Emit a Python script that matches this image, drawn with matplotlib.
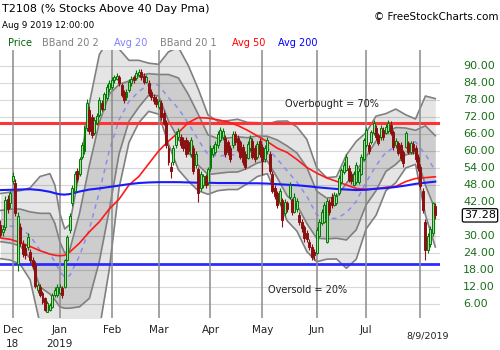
import numpy as np
import matplotlib
matplotlib.use("Agg")
import matplotlib.pyplot as plt
from matplotlib.transforms import blended_transform_factory

# daily T2108 candles, trading days Nov 26 2018 .. Aug 9 2019
opens = [34, 31.5, 33.3, 43, 41.5, 49.5, 48.6, 20, 33, 27, 25.6, 26.2, 24.5, 21.5, 19.8, 11, 12, 9.8, 8, 3.3,
         3.9, 5.1, 9.2, 9.2, 10, 11.6, 12, 21.5, 32, 41.6, 46, 53, 52, 58, 60, 68, 74.5, 72, 66.4, 70,
         72.7, 77, 75, 78.7, 82, 82.6, 85, 85.5, 86, 83.3, 80.8, 79, 81.5, 84, 86, 85.8, 87, 88, 86.5, 84.5,
         84, 81, 79, 78.5, 75.5, 77, 73.5, 70, 61, 54.5, 56, 62, 65, 65, 64, 64, 63, 59, 61, 55,
         53.5, 47, 48, 51, 49, 54, 59, 59.5, 62, 64, 65, 64.5, 63, 61, 62, 66, 64.5, 63, 61.5, 59,
         57.5, 61, 63.5, 61, 58, 63.5, 61.5, 57, 60, 59, 52, 47, 45, 42, 42.7, 38, 41.5, 43.9, 42.7, 38.6,
         39.5, 37.5, 35, 33.3, 31, 28, 26.2, 24.5, 24, 30, 34.5, 35, 28, 42, 43.9, 41, 41.5, 45, 49.2, 52.7,
         53.3, 53.9, 52, 48, 49.2, 49, 52, 57, 62, 62, 63.3, 66.2, 68, 65.6, 65, 67.5, 66.5, 67, 69, 66.8,
         62, 62.7, 62, 59.8, 61.5, 62.7, 59.8, 62.5, 61, 58, 54.5, 46, 35, 25, 27, 31, 40.5]
highs = [35.5, 34, 44, 44.5, 46, 52.5, 50, 38.5, 34.5, 28.5, 27, 31, 25.5, 22.5, 21, 13.5, 13, 10.5, 8.5, 7,
         6.5, 10, 12, 13, 13, 12.5, 22, 30.5, 38, 48, 53, 54, 58, 63, 69, 78.5, 76, 73, 72, 73.5,
         79, 78, 81, 83.5, 85, 86, 87, 87.5, 87, 84, 81.5, 82, 85.5, 86.5, 87, 88.5, 89, 89, 87.5, 87,
         85, 82, 80, 79.5, 78.5, 78, 74.5, 71, 62, 56, 62, 67, 68, 66, 65, 65, 64, 65, 62, 60,
         54.5, 53, 52, 52, 54.5, 62, 62, 63.5, 67, 68.5, 68, 65.5, 64, 62, 67, 67, 65.5, 64, 62.5, 60,
         63.5, 65.5, 64.5, 62, 63.5, 64.5, 62.5, 62, 65, 60, 53, 48, 46, 47, 43.5, 43, 42.5, 49, 43.5, 45,
         43.5, 38.5, 36, 34, 32, 29, 27, 25.5, 33, 36, 39.5, 42, 43.5, 43, 45, 45.5, 45, 51.5, 54, 56,
         59, 55, 53, 53, 56, 54, 59, 64.5, 68.5, 63, 67.5, 71, 69, 66.5, 69, 68.5, 69.5, 71, 70.5, 67.5,
         64.5, 63.5, 63, 60.5, 67, 63.5, 63.5, 63.5, 62, 59, 55.5, 47, 36, 31, 33.5, 42, 41.5]
lows = [29.5, 30, 32, 38, 40, 48.5, 37, 17.5, 26.5, 22.5, 22, 25, 20.5, 18.5, 11.5, 10, 8.5, 6, 3.5, 3,
        3.5, 4.5, 8.5, 8.5, 9.5, 8, 11.5, 21, 31, 40.5, 45, 49, 51, 57, 59, 67, 66, 64.5, 65.5, 69,
        72, 74, 74.5, 78, 81, 82, 84, 85, 83, 79, 77, 78, 81, 83, 84, 85, 86, 85, 83.5, 84,
        79.5, 78, 76.5, 75.5, 75, 71, 69, 61, 55, 50.4, 55, 61, 64, 61, 60, 58, 59, 58, 52, 54,
        42, 46, 47, 47, 48, 53, 58, 59, 61, 63, 64, 58, 58.5, 56, 61, 62, 59.5, 57, 55, 53.5,
        57, 60, 57, 56, 57, 58, 51.5, 56, 59, 52, 45, 43, 40, 41, 33.3, 37, 38.5, 43, 37.5, 38,
        38.5, 34, 31.5, 28, 28, 25, 21.5, 21.5, 23.5, 29.5, 34, 34.5, 27.5, 37.5, 40, 40.5, 41, 44.5, 48.5, 52,
        53, 49, 48.5, 47.5, 48.5, 48.5, 51.5, 56.5, 61.5, 59, 62.5, 65.5, 64, 62, 64, 64, 66, 66.5, 65.5, 60.5,
        61, 58.5, 56.5, 54.5, 61, 59, 59, 59, 56, 53, 46.5, 38, 21.5, 24, 26, 30, 36]
closes = [30.5, 32.5, 42.7, 39.5, 45, 51, 38, 37, 27.5, 23.5, 23.3, 29.8, 21.5, 19.4, 12.5, 12.7, 9.2, 6.8, 3.9, 6.2,
          5.5, 9.2, 11, 12.1, 12, 9.2, 21.5, 29.5, 37, 47, 52, 50, 57, 62, 68, 77, 67, 65.6, 71, 72.5,
          78, 75, 80, 82.6, 84, 85, 86, 86.5, 84, 79.8, 78, 81, 84.4, 85.5, 85, 87.5, 88, 86, 84.4, 86,
          80.5, 79, 77.5, 76.5, 77.5, 72, 70, 62, 56, 53, 61, 66, 67, 62, 61, 59, 60, 64, 53, 59,
          45, 52, 51, 48, 53.5, 61, 61, 62.5, 66, 67.5, 67, 59, 59.5, 57, 66, 63, 60.5, 58, 56, 54.5,
          62.5, 64.5, 58, 57, 62.5, 59, 56.5, 61, 64, 53, 46, 44, 41, 46, 35.6, 42, 39.5, 48, 38.5, 43.9,
          42.5, 35, 32.7, 29.2, 29, 26.2, 22.7, 23.3, 32, 35, 38.6, 41, 42.5, 38.6, 41, 44.5, 44, 50.4, 53.3, 55,
          58, 49.8, 49.5, 52, 55, 53, 58, 63.9, 67.4, 60, 66.8, 69.8, 65, 62.7, 68, 65, 68.5, 69.8, 66.5, 61.5,
          63.5, 59.2, 57.4, 55.6, 66.2, 59.8, 62.7, 60, 57, 54, 47.5, 39, 25, 30, 32.5, 41.5, 37.28]

# first trading day of each month (index into the candles above)
month_idx = [5, 24, 45, 64, 85, 106, 128, 148, 170]
month_lbl = ["Dec", "Jan", "Feb", "Mar", "Apr", "May", "Jun", "Jul", ""]
year_lbl = ["18", "2019", "", "", "", "", "", "", ""]
date_lbl = "8/9/2019"

# indicator readings taken at these candle positions
band_idx = [0, 4, 8, 12, 16, 20, 22, 24, 26, 28, 32, 36, 40, 44, 48, 52, 56, 60, 64, 68, 72, 76, 80, 84,
            88, 92, 96, 100, 104, 108, 112, 116, 120, 124, 128, 132, 136, 140, 144, 148, 152, 156, 160,
            164, 168, 172, 176]
bb2_up = [45, 45.5, 46, 47, 51, 52, 48, 38, 32.5, 34, 53, 77, 94, 100, 96, 92, 92, 91, 90.6, 95, 96.6,
          90.2, 82, 72.7, 70.5, 70.7, 71.2, 70.1, 70, 69.5, 70.5, 70.6, 68.5, 64.1, 54.1, 50.6, 50.9, 58.6,
          63.4, 66.5, 72.3, 73.2, 74.8, 72.8, 71.3, 79.4, 78.5]
bb1_up = [39, 39.5, 39.5, 38.5, 38, 38, 34.5, 28, 24, 25, 38, 55, 70, 80, 83.5, 84.7, 86.5, 87.3, 87, 87,
          85.8, 80, 73, 65.7, 64.4, 64.6, 65, 64.7, 65.3, 65.2, 63.9, 61.8, 59.3, 54.2, 45.8, 43.4, 43.7,
          48.6, 53, 58, 63.5, 66.4, 68.3, 68.1, 67.3, 68.9, 65.4]
avg20 = [33.5, 33.5, 33, 30, 25, 23.5, 21, 17.5, 15.5, 16, 23, 32.5, 45.5, 60, 71, 77.5, 81, 83.5, 83.3,
         78.8, 75, 69.8, 64, 58.7, 58.2, 58.5, 58.8, 59.3, 60.5, 61, 57.2, 53, 49, 44, 37.5, 36.2, 36.2,
         38.2, 42.2, 49, 54.8, 59.6, 61.5, 63, 63.2, 58.8, 53]
bb1_lo = [28, 27.5, 26.5, 22, 12, 9.5, 7.5, 5, 4.5, 4.5, 5, 8, 21, 39, 59, 70.5, 75.5, 79.7, 79.5, 70.6,
          64.2, 59.6, 55, 51.7, 52.1, 52.5, 52.6, 53.9, 55.8, 56.5, 50.6, 44.2, 40.9, 34.4, 29.2, 29, 29.2,
          28.6, 32.2, 41, 46, 52.8, 55.3, 58.7, 59.3, 47.9, 39.2]
bb2_lo = [22, 21.5, 20, 14.5, -1, -4, -6, -5, -2, -2, -10, -15, -3, 18, 47, 63, 70, 74, 73, 62.5, 53.4,
          49.4, 46, 44.7, 46, 46.4, 46.4, 48.5, 51, 52, 43.9, 35.4, 31.7, 24.5, 20.9, 21.8, 21.9, 18.6,
          21.8, 32.5, 37.3, 46, 48.8, 54, 55.3, 37.4, 26.1]
avg50 = [29.3, 28.8, 27.7, 26.3, 24.8, 23.6, 23.2, 23, 23.2, 24.3, 27.5, 31.5, 35, 39.5, 43, 48, 51, 55.5,
         60, 63.5, 66.5, 70, 71.8, 71.6, 71, 70.3, 69, 67.3, 65.3, 63.3, 61, 59.5, 57, 54.2, 52.2, 50.5,
         49.3, 48, 46.8, 46.5, 46.6, 47.2, 47.5, 49.2, 50.3, 50.6, 50.9]
avg200 = [46.2, 46.3, 46.4, 46.5, 46.2, 45.6, 45.1, 44.7, 44.6, 44.8, 45.7, 46.4, 46.8, 47.3, 47.8, 48.3,
          48.7, 48.9, 49, 49, 49, 48.9, 48.8, 48.8, 48.7, 48.7, 48.7, 48.6, 48.6, 48.5, 48.3, 48.1, 47.9,
          47.6, 47.2, 46.9, 46.6, 46.4, 46.2, 46.3, 46.7, 46.9, 47.3, 47.8, 48.4, 48.8, 49.2]

overbought = 70
oversold = 20
y_ticks = [6, 12, 18, 24, 30, 36, 42, 48, 54, 60, 66, 72, 78, 84, 90]

W, H = 500, 350
fig = plt.figure(figsize=(W / 100, H / 100), dpi=100)
ax = fig.add_axes([0, 32 / H, 440 / W, 268 / H])
ax.set_xlim(-0.2, 177.9)
ax.set_ylim(1.05, 95.65)
for s in ax.spines.values():
    s.set_visible(False)
ax.set_xticks([])
ax.set_yticks([])

# grid
for v in y_ticks:
    ax.axhline(v, color="#d9d9d9", lw=0.8, zorder=0)
for m in month_idx:
    ax.axvline(m, color="#8a8a8a", lw=1.1, zorder=3)

# bollinger bands
ax.fill_between(band_idx, bb2_lo, bb2_up, color="k", alpha=0.10, lw=0, zorder=1)
ax.fill_between(band_idx, bb1_lo, bb1_up, color="k", alpha=0.10, lw=0, zorder=1)
for band in (bb2_up, bb1_up, bb1_lo, bb2_lo):
    ax.plot(band_idx, band, color="#808080", lw=1.2, zorder=2)
ax.plot(band_idx, avg20, color="#8c8cf2", lw=1.1, dashes=(3, 3), zorder=2.5)

ax.axhline(overbought, color="#ff3333", lw=2.2, zorder=2.6)
ax.axhline(oversold, color="#2b2bff", lw=2.0, zorder=2.6)
ax.plot(band_idx, avg50, color="#ff1a1a", lw=1.2, zorder=4)
ax.plot(band_idx, avg200, color="#1a1aff", lw=1.5, zorder=4)

# candles
o = np.array(opens)
c = np.array(closes)
hi = np.array(highs)
lo = np.array(lows)
x = np.arange(len(c))
up = c >= o
for mask, edge, face in [(up, "#007a00", "#a8d8a8"), (~up, "#8b1111", "#8b1111")]:
    ax.vlines(x[mask], lo[mask], hi[mask], color=edge, lw=0.8, zorder=5)
    ax.bar(x[mask], np.abs(c - o)[mask], bottom=np.minimum(o, c)[mask], width=0.8,
           color=face, edgecolor=edge, linewidth=0.7, zorder=6)

ax.text(115, 76.6, "Overbought = 70%", fontsize=7, ha="left", va="center", color="#222222", zorder=7)
ax.text(108.3, 10.9, "Oversold = 20%", fontsize=7, ha="left", va="center", color="#222222", zorder=7)

# right price scale; the last-value box takes the place of the nearest label
ty = blended_transform_factory(ax.transAxes, ax.transData)
for v in y_ticks:
    if abs(v - c[-1]) < 3:
        continue
    ax.text(463 / 440, v, f"{v:.2f}", transform=ty, fontsize=8, color="#1a701a",
            ha="left", va="center", clip_on=False)
ax.text(464 / 440, c[-1], f"{c[-1]:.2f}", transform=ty, fontsize=8, color="black",
        ha="left", va="center", clip_on=False,
        bbox=dict(boxstyle="round,pad=0.15", fc="white", ec="black", lw=0.9))

# date labels
tx = blended_transform_factory(ax.transData, fig.transFigure)
for m, a, b in zip(month_idx, month_lbl, year_lbl):
    ax.text(m, 1 - 330 / H, a, transform=tx, fontsize=7.5, ha="center", va="center", color="#222222")
    ax.text(m, 1 - 344 / H, b, transform=tx, fontsize=7.5, ha="center", va="center", color="#222222")
ax.text(x[-1] - 3.3, 1 - 336 / H, date_lbl, transform=tx, fontsize=6.8, ha="center", va="center",
        color="#222222")

# header
fig.text(2 / W, 1 - 9.5 / H, "T2108 (% Stocks Above 40 Day Pma)", fontsize=8, ha="left", va="center")
fig.text(2 / W, 1 - 25 / H, "Aug 9 2019 12:00:00", fontsize=6.3, ha="left", va="center")
fig.text(498 / W, 1 - 17 / H, "\u00a9 FreeStockCharts.com", fontsize=7.5, ha="right", va="center")
legend = [("Price", "#006400", 8), ("BBand 20 2", "#808080", 42), ("Avg 20", "#8080ff", 114),
          ("BBand 20 1", "#808080", 160), ("Avg 50", "#ff0000", 232), ("Avg 200", "#0000ff", 278)]
for name, col, px in legend:
    fig.text(px / W, 1 - 43.5 / H, name, fontsize=7, color=col, ha="left", va="center")

fig.savefig("out.png", dpi=100)
